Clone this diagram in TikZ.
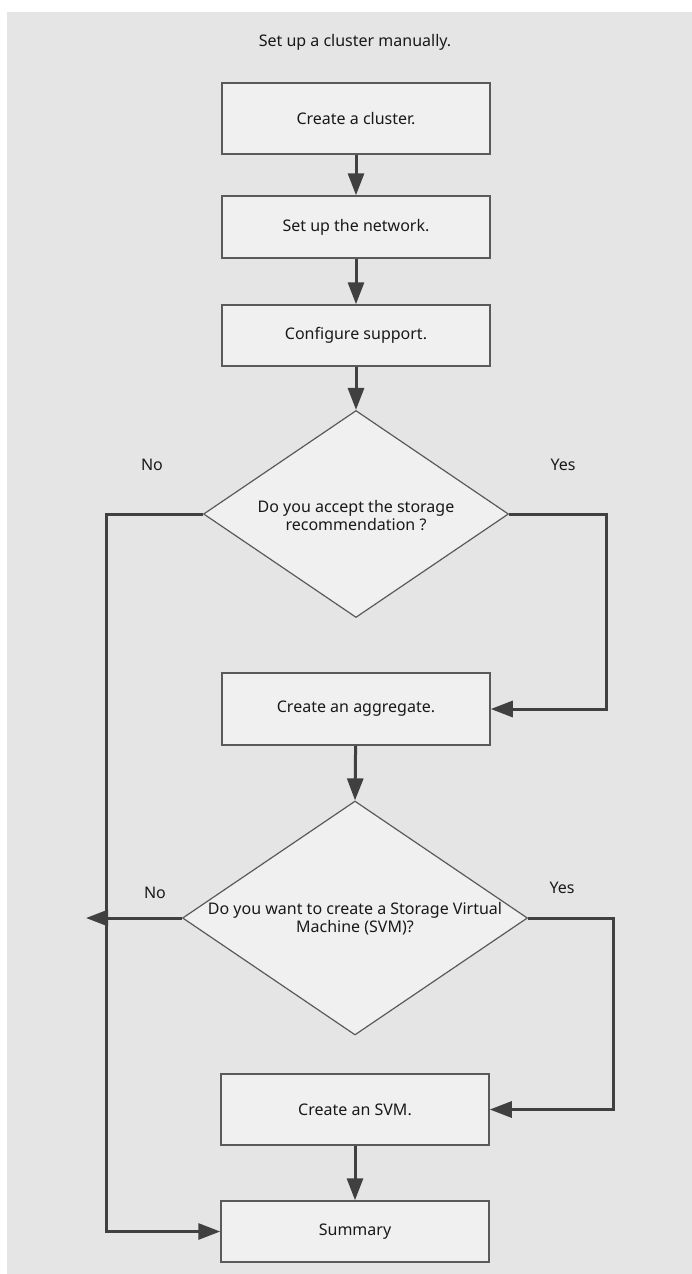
\documentclass[tikz,border=0pt]{standalone}
\usepackage{fontspec}
\setmainfont{Noto Sans}
\usetikzlibrary{shapes.geometric,arrows.meta}
\definecolor{pagebg}{RGB}{229,229,229}
\definecolor{boxfill}{RGB}{240,240,240}
\definecolor{boxline}{RGB}{90,90,90}
\definecolor{flowline}{RGB}{64,64,64}
\definecolor{txt}{RGB}{25,25,25}
\tikzset{
  box/.style={draw=boxline, line width=1.5pt, fill=boxfill, minimum width=268pt,
    inner sep=0pt, text=txt, font=\fontsize{16}{18}\selectfont},
  decision/.style={diamond, draw=boxline, line width=1.2pt, fill=boxfill, inner sep=0pt},
  flow/.style={draw=flowline, line width=3pt, -{Triangle[length=22pt,width=16pt]}},
  lbl/.style={text=txt, align=center, font=\fontsize{16}{18}\selectfont}
}
\begin{document}
\begin{tikzpicture}[x=1pt,y=-1pt]
        % page
        \useasboundingbox (0,0) rectangle (692,1274);
        \fill[white] (0,0) rectangle (692,1274);
        \fill[pagebg] (7,12) rectangle (692,1274);

        \node[lbl] (title) at (355,42) {Set up a cluster manually.};

        \node[box, minimum height=71pt] (cluster) at (356,118.5) {Create a cluster.};
        \node[box, minimum height=62pt] (network) at (356,227) {Set up the network.};
        \node[box, minimum height=61pt] (support) at (356,335.5) {Configure support.};
        \node[decision, minimum width=305pt, minimum height=207pt,
              label={[lbl, yshift=-2pt]center:Do you accept the storage\\recommendation ?}] (accept) at (356,514) {};
        \node[box, minimum height=72pt] (aggr) at (356,709) {Create an aggregate.};
        \node[decision, minimum width=345pt, minimum height=234pt,
              label={[lbl, yshift=-1pt]center:Do you want to create a Storage Virtual\\Machine (SVM)?}] (wantsvm) at (355,918) {};
        \node[box, minimum height=71pt] (svm) at (355,1109.5) {Create an SVM.};
        \node[box, minimum height=61pt] (summary) at (355,1231.5) {Summary};

        % yes / no labels
        \node[lbl] (no1) at (152,465) {No};
        \node[lbl] (yes1) at (563,465) {Yes};
        \node[lbl] (no2) at (155,893) {No};
        \node[lbl] (yes2) at (562,888) {Yes};

        \coordinate (leftx) at (106,0);
        \coordinate (rightx1) at (606,0);
        \coordinate (rightx2) at (613,0);

        % main flow
        \draw[flow] (cluster) -- (network);
        \draw[flow] (network) -- (support);
        \draw[flow] (support) -- (accept.north);
        \draw[flow] (aggr) -- (wantsvm.north);
        \draw[flow] (svm) -- (summary);

        % branches
        \draw[flow] (accept.west) -| (leftx |- summary.west) -- (summary.west);
        \draw[flow] (wantsvm.west) -- ([xshift=-20pt]leftx |- wantsvm.west);
        \draw[flow] (accept.east) -| (rightx1 |- aggr.east) -- (aggr.east);
        \draw[flow] (wantsvm.east) -| (rightx2 |- svm.east) -- (svm.east);

    \end{tikzpicture}
\end{document}
